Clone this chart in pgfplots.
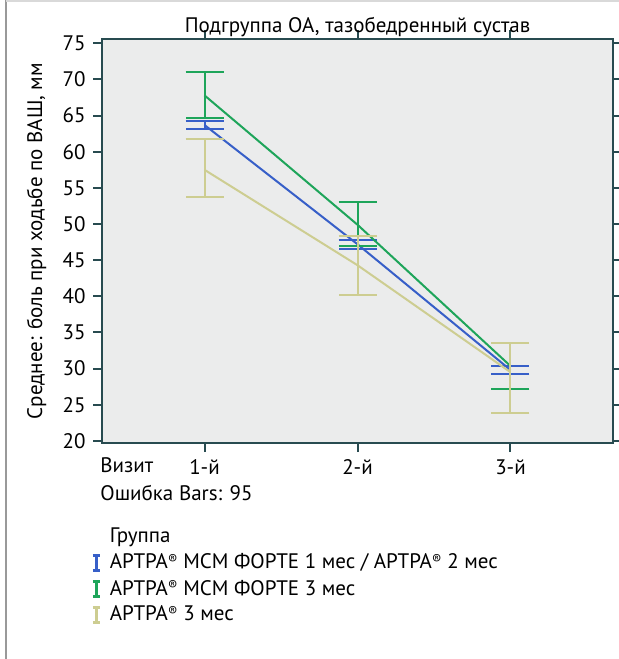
\documentclass[border=0pt]{standalone}
\usepackage{pgfplots}
\pgfplotsset{compat=1.18}
\usepackage{fontspec}
\setmainfont{PT Sans}
\definecolor{cblue}{RGB}{55,95,200}
\definecolor{cgreen}{RGB}{30,165,90}
\definecolor{ctan}{RGB}{205,205,145}
\definecolor{cbg}{RGB}{235,236,236}
\definecolor{caxis}{RGB}{40,75,80}
\newcommand\R{\raisebox{0.45ex}{\fontsize{7}{7}\selectfont ®}}
\begin{document}
\fontsize{10.5}{12.5}\selectfont
\begin{tikzpicture}[x=0.5pt,y=0.5pt]
\useasboundingbox (0,0) rectangle (619,659);
\draw[gray!80, line width=0.8pt] (6,0) -- (6,659);
\draw[gray!30, line width=0.6pt] (6,658) -- (619,658);
\begin{axis}[
    at={(51pt,108pt)}, anchor=south west,
    scale only axis,
    width=255.5pt, height=202pt,
    xmin=0.33, xmax=3.67,
    ymin=19.7, ymax=75.6,
    xtick={1,2,3},
    xticklabels={1-й,2-й,3-й},
    ytick={20,25,...,75},
    /pgf/number format/assume math mode=true,
    tick align=outside,
    major tick length=4.5pt,
    axis line style={caxis, line width=1.2pt},
    tick style={caxis, line width=1pt},
    axis background/.style={fill=cbg},
    title={Подгруппа ОА, тазобедренный сустав},
    title style={at={(axis description cs:0.5,1)}, anchor=south, yshift=-8.5pt},
    ylabel={Среднее: боль при ходьбе по ВАШ, мм},
    ylabel style={at={(axis description cs:-0.128,0.5)}, anchor=center},
    legend style={at={(axis description cs:-0.033,-0.19)}, anchor=north west,
        draw=none, fill=none, row sep=-0.1pt, font=\fontsize{10.5}{12.5}\selectfont},
    legend cell align=left,
]
\addplot[cblue, line width=1pt, forget plot,
    error bars/.cd, y dir=both, y explicit,
    error bar style={line width=1pt},
    error mark options={rotate=90, cblue, line width=1pt, mark size=9.5pt}]
coordinates {(1,63.7) += (0,0.5) -= (0,0.5)
             (2,47.2) += (0,0.65) -= (0,0.65)
             (3,29.8) += (0,0.5) -= (0,0.55)};
\addplot[cgreen, line width=1pt, forget plot,
    error bars/.cd, y dir=both, y explicit,
    error bar style={line width=1pt},
    error mark options={rotate=90, cgreen, line width=1pt, mark size=9.5pt}]
coordinates {(1,67.8) += (0,3.3) -= (0,3.1)
             (2,49.9) += (0,3.1) -= (0,3.0)
             (3,30.35) += (0,3.15) -= (0,3.15)};
\addplot[ctan, line width=1pt, forget plot,
    error bars/.cd, y dir=both, y explicit,
    error bar style={line width=1pt},
    error mark options={rotate=90, ctan, line width=1pt, mark size=9.5pt}]
coordinates {(1,57.5) += (0,4.2) -= (0,3.7)
             (2,44.3) += (0,4.1) -= (0,4.1)
             (3,29.5) += (0,4.1) -= (0,5.7)};
\addlegendimage{empty legend}
\addlegendentry{Группа}
\addlegendimage{legend image code/.code={
    \draw[cblue, line width=1.3pt] (1.75pt,-3.75pt) -- (1.75pt,3.75pt)
        (0pt,3.75pt) -- (3.5pt,3.75pt) (0pt,-3.75pt) -- (3.5pt,-3.75pt);
    \path[draw=none, fill=none] (0pt,0pt) rectangle (6.5pt,0.1pt);}}
\addlegendentry{АРТРА\R{} МСМ ФОРТЕ 1 мес / АРТРА\R{} 2 мес}
\addlegendimage{legend image code/.code={
    \draw[cgreen, line width=1.3pt] (1.75pt,-3.75pt) -- (1.75pt,3.75pt)
        (0pt,3.75pt) -- (3.5pt,3.75pt) (0pt,-3.75pt) -- (3.5pt,-3.75pt);
    \path[draw=none, fill=none] (0pt,0pt) rectangle (6.5pt,0.1pt);}}
\addlegendentry{АРТРА\R{} МСМ ФОРТЕ 3 мес}
\addlegendimage{legend image code/.code={
    \draw[ctan, line width=1.3pt] (1.75pt,-3.75pt) -- (1.75pt,3.75pt)
        (0pt,3.75pt) -- (3.5pt,3.75pt) (0pt,-3.75pt) -- (3.5pt,-3.75pt);
    \path[draw=none, fill=none] (0pt,0pt) rectangle (6.5pt,0.1pt);}}
\addlegendentry{АРТРА\R{} 3 мес}
\end{axis}
\node[anchor=west, inner sep=0pt] at (100,194) {Визит};
\node[anchor=west, inner sep=0pt] at (100,166) {Ошибка Bars: 95};
\end{tikzpicture}
\end{document}
